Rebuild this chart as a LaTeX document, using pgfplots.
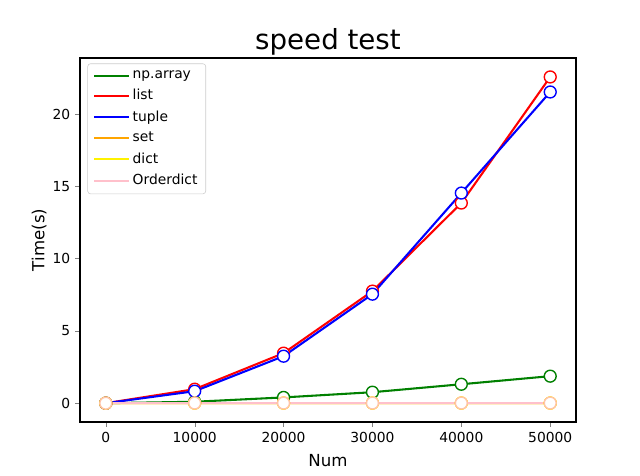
\documentclass[border=0pt]{standalone}
\usepackage{pgfplots}
\pgfplotsset{compat=1.18}
\usepackage{fontspec}
\setmainfont{DejaVu Sans}
\definecolor{mgreen}{HTML}{008000}
\definecolor{morange}{HTML}{FFA500}
\definecolor{mpink}{HTML}{FFC0CB}
\definecolor{mpeach}{HTML}{FFC4A8}
\begin{document}
\begin{tikzpicture}
\path[use as bounding box] (0,0) rectangle (6.4in,4.76in);
\begin{axis}[
  at={(0.8in,0.54in)}, anchor=south west,
  scale only axis, width=4.96in, height=3.64in,
  xmin=-2900, xmax=52900, ymin=-1.3, ymax=23.87,
  xtick={0,10000,20000,30000,40000,50000},
  xticklabels={0,10000,20000,30000,40000,50000},
  ytick={0,5,10,15,20},
  scaled x ticks=false,
  /pgf/number format/assume math mode=true,
  tick label style={font=\fontsize{10}{12}\selectfont},
  tick align=outside, tick pos=left,
  major tick length=3.5pt,
  axis line style={line width=0.8pt},
  title={speed test}, title style={font=\fontsize{20}{24}\selectfont, yshift=-7.5pt},
  xlabel={Num}, ylabel={Time(s)},
  label style={font=\fontsize{12}{14}\selectfont},
  xlabel style={yshift=-2pt},
  ylabel style={yshift=-2.5pt},
  legend style={font=\fontsize{10}{12}\selectfont, draw=black!20, rounded corners=2pt, inner xsep=4pt, inner ysep=3pt, row sep=2.4pt, at={(0.015,0.985)}, anchor=north west},
  legend cell align=left,
  legend image code/.code={\draw[#1] (0pt,0pt) -- (25pt,0pt);},
  every axis plot/.append style={line width=1.5pt, mark size=4.3pt, mark options={fill=white, line width=1pt}},
]
\addlegendimage{mgreen, line width=1.5pt, mark=none}
\addlegendentry{np.array}
\addlegendimage{red, line width=1.5pt, mark=none}
\addlegendentry{list}
\addlegendimage{blue, line width=1.5pt, mark=none}
\addlegendentry{tuple}
\addlegendimage{morange, line width=1.5pt, mark=none}
\addlegendentry{set}
\addlegendimage{yellow, line width=1.5pt, mark=none}
\addlegendentry{dict}
\addlegendimage{mpink, line width=1.5pt, mark=none}
\addlegendentry{Orderdict}

\addplot[mgreen, mark=*, forget plot] coordinates {(0,0.0) (10000,0.1) (20000,0.4) (30000,0.76) (40000,1.31) (50000,1.87)};
\addplot[red, mark=*, forget plot] coordinates {(0,0.0) (10000,0.97) (20000,3.46) (30000,7.75) (40000,13.84) (50000,22.56)};
\addplot[blue, mark=*, forget plot] coordinates {(0,0.0) (10000,0.83) (20000,3.25) (30000,7.54) (40000,14.53) (50000,21.52)};
\addplot[morange, mark=*, forget plot] coordinates {(0,0.0) (10000,0.01) (20000,0.01) (30000,0.01) (40000,0.01) (50000,0.01)};
\addplot[yellow, mark=*, forget plot] coordinates {(0,0.0) (10000,0.01) (20000,0.01) (30000,0.01) (40000,0.01) (50000,0.01)};
\addplot[mpink, mark=*, mark options={draw=mpeach, fill=white, line width=1pt}, forget plot] coordinates {(0,0.0) (10000,0.01) (20000,0.01) (30000,0.01) (40000,0.01) (50000,0.01)};
\end{axis}
\end{tikzpicture}
\end{document}
